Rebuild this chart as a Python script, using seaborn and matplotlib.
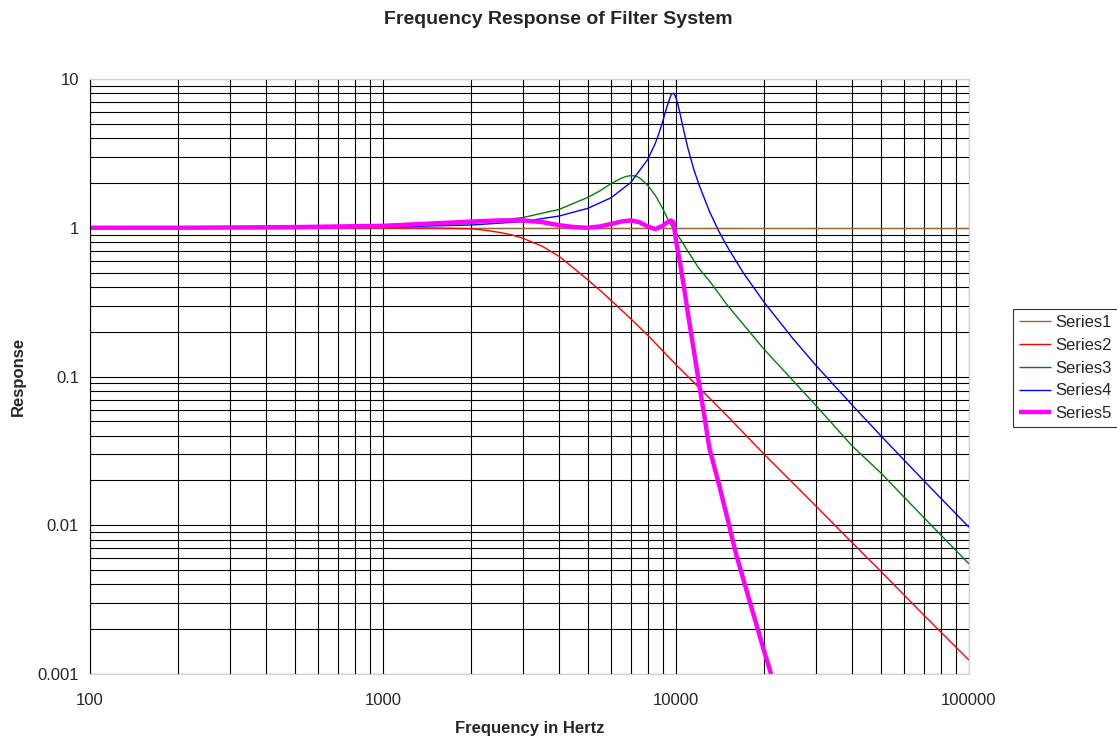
"""
Frequency response of filter system (log-log, Excel-style)
"""

import pandas as pd
import matplotlib
matplotlib.use('Agg')
import matplotlib.pyplot as plt
import seaborn as sns
from matplotlib.ticker import LogLocator, FixedLocator, FixedFormatter, NullFormatter

# Series1: flat response
freq_s1 = [100, 1000, 10000, 100000]
resp_s1 = [1.0, 1.0, 1.0, 1.0]

# Series2: low-pass
freq_s2 = [100, 500, 1000, 1500, 2000, 2250, 2500, 2750, 3000, 3500, 4000, 4500,
           5000, 5500, 6000, 7000, 8000, 10000, 12000, 15000, 20000, 30000,
           40000, 50000, 70000, 100000]
resp_s2 = [1.0, 1.0, 1.0, 0.995, 0.985, 0.96, 0.93, 0.895, 0.85, 0.75, 0.64, 0.53,
           0.446, 0.38, 0.325, 0.245, 0.19, 0.12, 0.084, 0.054, 0.030, 0.0135,
           0.0076, 0.0049, 0.0025, 0.00124]

# Series3: resonant peak near 7 kHz
freq_s3 = [100, 1000, 2000, 3000, 4000, 5000, 5500, 6000, 6500, 6750, 7000, 7250,
           7500, 8000, 8500, 9000, 9500, 10000, 10500, 11000, 12000, 13000, 15000,
           20000, 30000, 40000, 50000, 70000, 100000]
resp_s3 = [1.0, 1.02, 1.07, 1.17, 1.33, 1.6, 1.77, 1.98, 2.15, 2.21, 2.24, 2.23,
           2.17, 1.93, 1.65, 1.35, 1.08, 0.93, 0.80, 0.69, 0.53, 0.44, 0.30,
           0.152, 0.064, 0.034, 0.0225, 0.0113, 0.0055]

# Series4: sharp resonance near 10 kHz
freq_s4 = [100, 1000, 2000, 3000, 4000, 5000, 6000, 7000, 8000, 8500, 8750, 9000,
           9300, 9600, 9700, 9800, 9900, 10000, 10150, 10300, 10500, 10700, 11000,
           11500, 12000, 13000, 14000, 15000, 17000, 20000, 25000, 30000, 40000,
           50000, 70000, 100000]
resp_s4 = [1.0, 1.01, 1.043, 1.10, 1.20, 1.35, 1.59, 2.01, 2.87, 3.70, 4.32, 5.15,
           6.46, 7.75, 7.97, 8.0, 7.82, 7.46, 6.74, 5.95, 5.01, 4.24, 3.38,
           2.47, 1.93, 1.29, 0.947, 0.74, 0.495, 0.315, 0.181, 0.119, 0.064,
           0.040, 0.020, 0.0097]

# Series5: steep multi-stage filter with ripple
freq_s5 = [100, 200, 500, 1000, 1500, 2000, 2500, 3000, 3500, 4000, 4500, 5000,
           5500, 6000, 6500, 7000, 7500, 8000, 8500, 9000, 9300, 9600, 9800,
           10000, 10150, 10300, 10500, 10700, 11000, 11500, 12000, 12500, 13000,
           14000, 15000, 16000, 18000, 20000, 21100, 22000]
resp_s5 = [1.0, 1.0, 1.01, 1.03, 1.07, 1.1, 1.12, 1.12, 1.09, 1.04, 1.01, 1.0,
           1.02, 1.06, 1.1, 1.12, 1.09, 1.02, 0.98, 1.03, 1.08, 1.12, 1.09,
           0.82, 0.69, 0.6, 0.47, 0.375, 0.26, 0.15, 0.088, 0.054, 0.033,
           0.019, 0.011, 0.0065, 0.0029, 0.00142, 0.001, 0.0008]

series_names = ['Series1', 'Series2', 'Series3', 'Series4', 'Series5']
series_colors = ['#996633', '#FF0000', '#008000', '#0000FF', '#FF00FF']
series_widths = [1.0, 1.0, 1.0, 1.0, 3.2]

x_ticks = [100, 1000, 10000, 100000]
x_tick_labels = ['100', '1000', '10000', '100000']
y_ticks = [0.001, 0.01, 0.1, 1, 10]
y_tick_labels = ['0.001', '0.01', '0.1', '1', '10']


def build_frame():
    parts = []
    for name, f, r in zip(series_names,
                          [freq_s1, freq_s2, freq_s3, freq_s4, freq_s5],
                          [resp_s1, resp_s2, resp_s3, resp_s4, resp_s5]):
        parts.append(pd.DataFrame({'Frequency': f, 'Response': r, 'Series': name}))
    return pd.concat(parts, ignore_index=True)


def main():
    sns.set_style('white')
    plt.rcParams['font.family'] = ['Liberation Sans', 'DejaVu Sans']

    df = build_frame()

    fig = plt.figure(figsize=(11.17, 7.36), dpi=100)
    ax = fig.add_axes([0.0806, 0.0842, 0.7869, 0.8085])

    for name, color, lw in zip(series_names, series_colors, series_widths):
        sub = df[df['Series'] == name]
        sns.lineplot(data=sub, x='Frequency', y='Response', ax=ax, color=color,
                     linewidth=lw, label=name, sort=False, estimator=None,
                     solid_capstyle='butt', solid_joinstyle='round')

    ax.set_xscale('log')
    ax.set_yscale('log')
    ax.set_xlim(100, 100000)
    ax.set_ylim(0.001, 10)

    ax.xaxis.set_major_locator(FixedLocator(x_ticks))
    ax.xaxis.set_major_formatter(FixedFormatter(x_tick_labels))
    ax.yaxis.set_major_locator(FixedLocator(y_ticks))
    ax.yaxis.set_major_formatter(FixedFormatter(y_tick_labels))
    ax.xaxis.set_minor_locator(LogLocator(base=10, subs=range(2, 10), numticks=20))
    ax.yaxis.set_minor_locator(LogLocator(base=10, subs=range(2, 10), numticks=20))
    ax.xaxis.set_minor_formatter(NullFormatter())
    ax.yaxis.set_minor_formatter(NullFormatter())

    ax.grid(True, which='both', color='black', linewidth=0.8)
    ax.set_axisbelow(True)

    ax.tick_params(axis='x', which='both', length=0, labelsize=12, pad=14)
    ax.tick_params(axis='y', which='major', length=4, width=0.8, color='black',
                   direction='out', labelsize=12, pad=4)
    ax.tick_params(axis='y', which='minor', length=0)

    for side in ['top', 'right', 'bottom']:
        ax.spines[side].set_color('#d0d0d0')
        ax.spines[side].set_linewidth(0.8)
    ax.spines['left'].set_color('black')
    ax.spines['left'].set_linewidth(0.8)

    ax.set_xlabel('Frequency in Hertz', fontsize=12, fontweight='bold', labelpad=9)
    ax.set_ylabel('Response', fontsize=12, fontweight='bold', labelpad=8)
    fig.suptitle('Frequency Response of Filter System', fontsize=14,
                 fontweight='bold', y=0.974, va='center')

    handles, labels = ax.get_legend_handles_labels()
    ax.legend_.remove()
    leg = fig.legend(handles, labels, loc='upper left', bbox_to_anchor=(0.907, 0.58),
                     frameon=True, fancybox=False, fontsize=12, handlelength=1.9,
                     handletextpad=0.3, borderpad=0.35, labelspacing=0.47,
                     borderaxespad=0)
    leg.get_frame().set_edgecolor('black')
    leg.get_frame().set_linewidth(0.8)

    fig.savefig('out.png', dpi=100)


if __name__ == "__main__":
    main()
